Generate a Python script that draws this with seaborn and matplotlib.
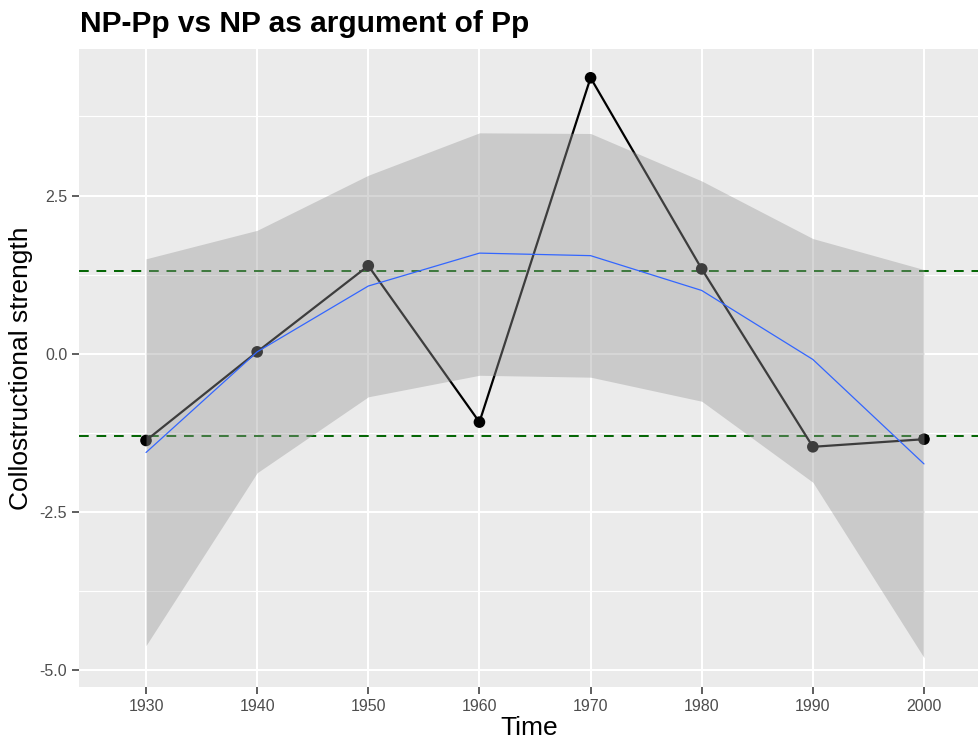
"""Collostructional strength over time: observed values with a smoothed trend."""
import matplotlib
matplotlib.use('Agg')
import matplotlib.pyplot as plt
import seaborn as sns
import pandas as pd

# values
years = [1930, 1940, 1950, 1960, 1970, 1980, 1990, 2000]
strength = [-1.37, 0.03, 1.39, -1.08, 4.36, 1.34, -1.47, -1.35]
smooth_fit = [-1.56, 0.03, 1.07, 1.59, 1.55, 1.00, -0.09, -1.74]
smooth_upper = [1.50, 1.95, 2.82, 3.49, 3.48, 2.73, 1.82, 1.33]
smooth_lower = [-4.61, -1.88, -0.68, -0.34, -0.37, -0.75, -2.03, -4.80]
thresholds = [1.3, -1.3]

x_ticks = [1930, 1940, 1950, 1960, 1970, 1980, 1990, 2000]
y_ticks = [-5.0, -2.5, 0.0, 2.5]
y_minor = [-3.75, -1.25, 1.25, 3.75]

df = pd.DataFrame({'Time': years, 'strength': strength, 'fit': smooth_fit,
                   'upper': smooth_upper, 'lower': smooth_lower})

sns.set_theme(style='darkgrid')
plt.rcParams['font.family'] = ['Liberation Sans', 'DejaVu Sans']
plt.rcParams['axes.unicode_minus'] = False

fig = plt.figure(figsize=(9.79, 7.40), dpi=100)
ax = fig.add_axes([79 / 979, 1 - 686.7 / 740, 900 / 979, (686.7 - 49.3) / 740])
ax.set_facecolor('#EBEBEB')
for s in ax.spines.values():
    s.set_visible(False)

# grid: major white, minor thinner (y only)
ax.grid(False)
for xv in x_ticks:
    ax.axvline(xv, color='white', lw=1.5, zorder=0)
for yv in y_ticks:
    ax.axhline(yv, color='white', lw=1.5, zorder=0)
for yv in y_minor:
    ax.axhline(yv, color='white', lw=0.8, zorder=0)

for t in thresholds:
    ax.axhline(t, color='#006400', lw=1.4, ls=(0, (5, 4)), zorder=1)

sns.lineplot(data=df, x='Time', y='strength', color='black', lw=1.6, ax=ax, zorder=2)
sns.scatterplot(data=df, x='Time', y='strength', color='black', s=70,
                edgecolor='none', ax=ax, zorder=3)
ax.fill_between(df['Time'], df['lower'], df['upper'], color='#999999',
                alpha=0.4, lw=0, zorder=4)
sns.lineplot(data=df, x='Time', y='fit', color='#3366FF', lw=0.9, ax=ax, zorder=5)

ax.set_xlim(1923.97, 2004.95)
ax.set_ylim(-5.26, 4.81)
ax.set_xticks(x_ticks)
ax.set_xticklabels([str(v) for v in x_ticks])
ax.set_yticks(y_ticks)
ax.set_yticklabels([f'{v:.1f}' for v in y_ticks])
ax.tick_params(axis='both', which='major', length=5, width=1.1, color='#333333',
               labelcolor='#4D4D4D', labelsize=11.5, pad=3.5, bottom=True, left=True)
ax.set_xlabel('')
ax.set_ylabel('')

fig.text(80 / 979, 1 - 32.5 / 740, 'NP-Pp vs NP as argument of Pp', fontsize=21.5,
         fontweight='bold', color='black', ha='left', va='baseline')
fig.text(529 / 979, 1 - 735 / 740, 'Time', fontsize=19, color='black',
         ha='center', va='baseline')
fig.text(21 / 979, 1 - 368 / 740, 'Collostructional strength', fontsize=19,
         color='black', rotation=90, ha='center', va='center')

fig.savefig('out.png', dpi=100)
plt.close(fig)
